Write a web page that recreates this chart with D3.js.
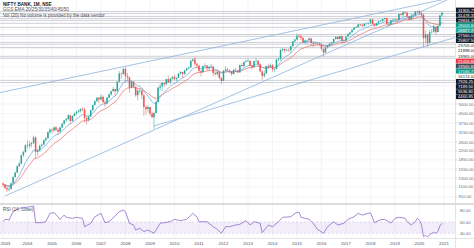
<!DOCTYPE html>
<html>
<head>
<meta charset="utf-8">
<script src="https://cdn.jsdelivr.net/npm/d3@7"></script>
<style>
  html, body { margin: 0; padding: 0; background: #fff; }
  svg { display: block; font-family: "Liberation Sans", Arial, sans-serif; }
</style>
</head>
<body>
<div id="chart"></div>
<script>
const W = 474, H = 248;

// Monthly bars of NIFTY BANK, Jan 2003 .. Dec 2020
const startYear = 2003;
const firstOpen = 1180;
const closes = [
  1150, 1080, 1050, 1060, 1180, 1330, 1450, 1640, 1720, 2020, 2150, 2450,
  2420, 2500, 2560, 2850, 2150, 2220, 2430, 2480, 2700, 2800, 3150, 3300,
  3250, 3450, 3300, 3180, 3450, 3700, 3950, 4050, 4350, 3900, 4300, 4500,
  4650, 4750, 4900, 4850, 4150, 4000, 4250, 4800, 5300, 5700, 6100, 5900,
  6200, 5600, 5450, 6100, 6500, 6900, 7200, 6900, 8300, 9700, 9600, 10600,
  9200, 9000, 7400, 8300, 7500, 6400, 7000, 7000, 6400, 5100, 4900, 5100,
  4500, 4200, 4550, 5600, 7400, 7600, 8100, 7900, 8700, 8200, 8800, 9100,
  8700, 8900, 9700, 10000, 9600, 10300, 10700, 10900, 12400, 12700, 11700, 11300,
  10200, 10000, 11200, 11300, 10700, 11000, 11100, 9800, 9600, 10000, 8900, 8400,
  10200, 10500, 10300, 10100, 9600, 10400, 10300, 9900, 11400, 11200, 12100, 12300,
  12400, 11300, 11000, 12300, 12400, 11600, 10100, 9300, 9700, 11200, 11000, 11400,
  10500, 10600, 12700, 12900, 15200, 15500, 15100, 15300, 15200, 16400, 18000, 18600,
  20000, 19800, 19200, 17600, 18300, 18400, 19000, 17400, 17100, 17300, 17200, 16900,
  15600, 14500, 16000, 16600, 17200, 17600, 18800, 19600, 18800, 19900, 18200, 18200,
  19700, 20700, 21400, 22400, 23400, 23600, 24900, 24500, 24100, 25200, 25200, 25500,
  27400, 25000, 24300, 25500, 26400, 26700, 27600, 28100, 25100, 25100, 26900, 27200,
  27300, 27100, 30400, 29800, 31400, 31200, 29000, 27400, 29100, 29400, 31900, 32200,
  30800, 29900, 19100, 20500, 17400, 21400, 21600, 23800, 21450, 24100, 29600, 31260
];
const highs = [
  1200, 1160, 1110, 1100, 1200, 1350, 1480, 1660, 1800, 2050, 2200, 2500,
  2700, 2650, 2620, 2950, 2900, 2300, 2480, 2540, 2750, 2880, 3200, 3400,
  3400, 3500, 3550, 3400, 3480, 3750, 3980, 4150, 4450, 4400, 4350, 4600,
  4750, 4850, 5000, 5100, 5050, 4250, 4350, 4850, 5350, 5800, 6150, 6200,
  6500, 6350, 5800, 6200, 6600, 7000, 7500, 7250, 8400, 10200, 9900, 10800,
  11000, 9800, 9100, 8500, 8400, 7600, 7200, 7300, 7100, 6500, 5300, 5300,
  5100, 4700, 4600, 5800, 7500, 8000, 8200, 8200, 8800, 9300, 8900, 9200,
  9500, 9000, 9750, 10150, 10000, 10400, 10800, 11000, 12500, 13000, 13300, 11900,
  11400, 10500, 11300, 11800, 11400, 11200, 11700, 11100, 10100, 10300, 10100, 9000,
  10400, 11200, 10800, 10500, 10200, 10600, 10800, 10400, 11500, 11800, 12200, 12600,
  12900, 12500, 11500, 12400, 13000, 12500, 11800, 10300, 10300, 11300, 11700, 11800,
  11600, 10700, 12800, 13100, 15600, 15900, 15700, 15600, 15800, 16500, 18100, 19000,
  20900, 20500, 20600, 19500, 18500, 18500, 19300, 19200, 17700, 17900, 17500, 17500,
  17000, 15600, 16200, 16800, 17500, 17900, 18950, 19700, 19800, 19900, 20000, 18700,
  19800, 21100, 21400, 22800, 23700, 24000, 25000, 25000, 25100, 25300, 25900, 25800,
  27600, 27000, 25400, 25700, 26400, 27000, 27700, 28400, 28300, 25700, 27000, 27700,
  27800, 27800, 30500, 30600, 31800, 31600, 31600, 29200, 30700, 30600, 32000, 32300,
  32600, 31800, 30400, 22000, 20800, 22400, 22800, 24900, 24000, 24600, 29700, 31300
];
const lows = [
  1100, 1060, 1000, 1010, 1050, 1170, 1320, 1430, 1600, 1700, 1950, 2120,
  2300, 2300, 2350, 2500, 1900, 2000, 2150, 2350, 2450, 2620, 2780, 3050,
  3050, 3200, 3200, 3000, 3100, 3400, 3650, 3800, 3950, 3700, 3850, 4250,
  4350, 4550, 4600, 4700, 3800, 3650, 3850, 4200, 4750, 5250, 5650, 5500,
  5800, 5500, 5100, 5350, 6000, 6350, 6850, 6300, 6850, 8200, 8800, 9500,
  8200, 8300, 6700, 7300, 7400, 6200, 5800, 6600, 5900, 4300, 4400, 4600,
  4300, 4100, 3340, 4500, 5500, 7000, 6900, 7500, 7800, 8100, 7900, 8600,
  8500, 8300, 8900, 9500, 8900, 9500, 10200, 10500, 10900, 12100, 11200, 10700,
  10000, 9200, 9800, 10900, 10300, 10300, 10800, 9200, 9300, 9300, 8700, 7900,
  8400, 10100, 10000, 9800, 9300, 9500, 10000, 9800, 9900, 11000, 10900, 12000,
  12200, 11200, 10500, 10800, 12000, 11100, 9900, 8600, 8900, 9700, 10600, 11000,
  10000, 9900, 10600, 12300, 12400, 14700, 14300, 14700, 14600, 14400, 16300, 17700,
  18300, 19300, 18400, 17400, 17100, 16800, 18200, 16500, 16100, 17000, 16800, 16600,
  15000, 13400, 14500, 15600, 16300, 16700, 17500, 18600, 18600, 18700, 17100, 17400,
  18100, 19700, 20500, 21300, 22600, 23200, 23500, 24100, 23900, 23800, 24900, 24700,
  25300, 24800, 23900, 24200, 24900, 26000, 26100, 27200, 24800, 23900, 24600, 26000,
  26600, 26400, 27100, 29400, 29100, 30600, 28800, 26700, 27000, 27500, 29800, 31200,
  30200, 28400, 16100, 17400, 16100, 17200, 21000, 21200, 20400, 21700, 24600, 28900
];

// RSI (month index from Jan 2003, value)
const rsiMonths = [0,1,3,5,7,8,10,12,13,15, 16,19,21,23,25,26,28,30,31,34,
  36,39,40,43,45,48,50,52,55,57, 59,60,62,64,65,67,69,71,74,75,
  77,79,82,84,87,90,93,95,96,100, 103,105,107,109,111,114,116,119,121,123,
  126,127,130,132,135,137,141,143,145,146, 148,150,152,154,157,159,162,164,167,169,
  172,174,176,180,182,185,187,190,192,194, 197,198,200,202,203,204,205,206,207,208,
  209,210,211,212,213,214,215];
const rsiValues = [60.5,64.8,63.5,78.2,82.4,84.2,85.9,85.9,87,88.2, 58.8,58.8,60.5,75.3,76.4,73.6,64.8,72.3,68.3,66.5,
  68.3,66.5,51.7,57.7,69.3,75.3,58.8,60.5,70.6,78.2, 81.2,78.2,57.7,54.7,45.9,48.9,42.9,45.9,40.1,45.9,
  57.7,58.8,60.5,64.8,62.3,64.8,75.3,69.3,60.5,60.5, 51.7,47.1,40.1,51.7,51.7,54.7,56,62.3,54.7,60.5,
  57.7,41.1,54.7,51.7,60.5,68.3,69.3,75.3,77.6,68.3, 66.5,64.8,57.7,47.1,40.1,51.7,60.5,54.7,57.7,64.8,
  69.3,75.3,72.3,76.4,58.8,64,64.8,58,66.5,68.3, 66.5,60.5,54.7,60.5,66.5,63,55,34,36.5,33.5,
  38,39.5,42,40,43,53,57.7];
const rsiTicks = [80, 60, 40];
const rsiBand = [60, 40];

const years = d3.range(2003, 2022);
const priceTicks = [910, 1100, 1300, 1550, 1850, 2200, 2600, 3150, 3750, 4500, 5400];
const gridPrices = [910, 1100, 1300, 1550, 1850, 2200, 2600, 3150, 3750, 4500, 5400,
  6400, 7700, 9200, 11000, 13100, 15700, 18700, 22400, 26700, 31900];

// horizontal levels drawn on the chart
const levels = [31900, 30700, 29000, 27900, 26900, 25400, 23500, 20500, 19800,
  17600, 17000, 16000, 13500, 13000, 8500, 8150];

// trend lines: anchor points [month, price]
const trendFrom = [["2003-02", 925], ["2009-03", 3550], ["2002-10", 6640]];
const trendTo   = [["2016-02", 13900], ["2019-03", 14100], ["2018-01", 29900]];

// stacked labels on the price scale
const scaleLabels = ["31905.75", "31478.35", "29834.30", "28003.80", "26827.75", "27560.00",
  "25807.50", "23705.00", "21898.00", "19965.00", "21426.80", "19565.80", "17036.75",
  "16174.00", "7926.25", "7189.50", "5536.80", "4460.85"];

const emaFast = 10, emaSlow = 20;

// ---------------------------------------------------------------
const paneR = 455, mainBottom = 203, rsiTop = 205, rsiBottom = 238.5;

const months = closes.map((c, i) => new Date(Date.UTC(startYear, i, 1)));
const opens = closes.map((c, i) => i === 0 ? firstOpen : closes[i - 1]);
const bars = closes.map((c, i) => ({ date: months[i], o: opens[i], h: highs[i], l: lows[i], c: c }));
const parseMonth = s => { const [yy, mm] = s.split("-").map(Number); return new Date(Date.UTC(yy, mm - 1, 1)); };

function ema(values, n) {
  const k = 2 / (n + 1);
  const out = [];
  values.forEach((v, i) => out.push(i === 0 ? v : v * k + out[i - 1] * (1 - k)));
  return out;
}

const x = d3.scaleUtc()
  .domain([new Date(Date.UTC(2003, 0, 1)), new Date(Date.UTC(2021, 0, 1))])
  .range([3, 444]);
const y = d3.scaleLog().domain([908, 34070]).range([197, 8]);
const yR = d3.scaleLinear().domain([40, 80]).range([233.3, 210.7]);

const svg = d3.select("#chart").append("svg")
  .attr("width", W).attr("height", H);

svg.append("rect").attr("width", W).attr("height", H).attr("fill", "#fff");

const defs = svg.append("defs");
defs.append("clipPath").attr("id", "clipMain")
  .append("rect").attr("x", 0).attr("y", 0).attr("width", paneR).attr("height", mainBottom);
defs.append("clipPath").attr("id", "clipRsi")
  .append("rect").attr("x", 0).attr("y", rsiTop).attr("width", paneR).attr("height", rsiBottom - rsiTop);

// grid
const grid = svg.append("g").attr("stroke", "#eef0f5").attr("stroke-width", 0.7);
grid.selectAll(".vg").data(years).join("line")
  .attr("x1", d => x(new Date(Date.UTC(d, 0, 1)))).attr("x2", d => x(new Date(Date.UTC(d, 0, 1))))
  .attr("y1", 0).attr("y2", rsiBottom);
grid.selectAll(".hg").data(gridPrices).join("line")
  .attr("x1", 0).attr("x2", paneR)
  .attr("y1", d => y(d)).attr("y2", d => y(d));

const main = svg.append("g").attr("clip-path", "url(#clipMain)");

// horizontal levels
main.selectAll(".lvl").data(levels).join("line")
  .attr("x1", 0).attr("x2", paneR)
  .attr("y1", d => y(d)).attr("y2", d => y(d))
  .attr("stroke", "#c2c4cb").attr("stroke-width", 0.8);

// trend lines, extended to the right edge
trendFrom.forEach((a, i) => {
  const b = trendTo[i];
  const x1 = x(parseMonth(a[0])), y1 = y(a[1]);
  const x2 = x(parseMonth(b[0])), y2 = y(b[1]);
  const slope = (y2 - y1) / (x2 - x1);
  main.append("line")
    .attr("x1", x1).attr("y1", y1)
    .attr("x2", paneR).attr("y2", y1 + slope * (paneR - x1))
    .attr("stroke", "#8db3dc").attr("stroke-width", 0.8);
});

// EMAs
const line = d3.line().x((d, i) => x(months[i])).y(d => y(d));
main.append("path").datum(ema(closes, emaSlow))
  .attr("d", line).attr("fill", "none").attr("stroke", "#ea7a74").attr("stroke-width", 0.8);
main.append("path").datum(ema(closes, emaFast))
  .attr("d", line).attr("fill", "none").attr("stroke", "#74addf").attr("stroke-width", 0.8);

// candles
const up = "#26a69a", down = "#ef5350";
const cw = 1.5;
const candle = main.selectAll(".bar").data(bars).join("g");
candle.append("line")
  .attr("x1", d => x(d.date)).attr("x2", d => x(d.date))
  .attr("y1", d => y(d.h)).attr("y2", d => y(d.l))
  .attr("stroke", d => d.c >= d.o ? up : down).attr("stroke-width", 0.5);
candle.append("rect")
  .attr("x", d => x(d.date) - cw / 2).attr("width", cw)
  .attr("y", d => y(Math.max(d.o, d.c)))
  .attr("height", d => Math.max(0.6, Math.abs(y(d.o) - y(d.c))))
  .attr("fill", d => d.c >= d.o ? up : down);

// legend
const fs = 4.6;
svg.append("text").attr("x", 3).attr("y", 5.8).attr("font-size", fs).attr("font-weight", 700)
  .attr("fill", "#131722").text("NIFTY BANK, 1M, NSE");
svg.append("text").attr("x", 3).attr("y", 11.3).attr("font-size", fs)
  .attr("fill", "#4a4d57").text("GGS EMA 20/25/30/35/40/45/50");
svg.append("text").attr("x", 3).attr("y", 16.6).attr("font-size", fs)
  .attr("fill", "#4a4d57").text("Vol (20) No volume is provided by the data vendor");

// RSI pane
svg.append("line").attr("x1", 0).attr("x2", W).attr("y1", 204).attr("y2", 204)
  .attr("stroke", "#b7b9c0").attr("stroke-width", 1);
const rsiG = svg.append("g").attr("clip-path", "url(#clipRsi)");
rsiG.append("rect").attr("x", 0).attr("width", paneR)
  .attr("y", yR(rsiBand[0])).attr("height", yR(rsiBand[1]) - yR(rsiBand[0]))
  .attr("fill", "#7e57c2").attr("fill-opacity", 0.1);
rsiG.selectAll(".bl").data(rsiBand).join("line")
  .attr("x1", 0).attr("x2", paneR).attr("y1", d => yR(d)).attr("y2", d => yR(d))
  .attr("stroke", "#c9bde6").attr("stroke-width", 0.5).attr("stroke-dasharray", "2,2");
const rsiLine = d3.line()
  .x((d, i) => x(new Date(Date.UTC(startYear, rsiMonths[i], 1))))
  .y(d => yR(d));
rsiG.append("path").datum(rsiValues).attr("d", rsiLine)
  .attr("fill", "none").attr("stroke", "#8e6bc9").attr("stroke-width", 0.8);
svg.append("text").attr("x", 3).attr("y", 210.6).attr("font-size", fs)
  .attr("fill", "#4a4d57").text("RSI (14, close)");

// bottom axis
svg.append("line").attr("x1", 0).attr("x2", W).attr("y1", rsiBottom).attr("y2", rsiBottom)
  .attr("stroke", "#d6d8de").attr("stroke-width", 0.7);
svg.selectAll(".yr").data(years).join("text")
  .attr("x", (d, i) => i === 0 ? 0.5 : x(new Date(Date.UTC(d, 0, 1))))
  .attr("y", 245.2)
  .attr("text-anchor", (d, i) => i === 0 ? "start" : "middle")
  .attr("font-size", 4.4).attr("fill", "#50535e")
  .text(d => d);

// right price scale
svg.append("line").attr("x1", paneR + 0.5).attr("x2", paneR + 0.5).attr("y1", 0).attr("y2", H)
  .attr("stroke", "#d6d8de").attr("stroke-width", 0.7);
const axisG = svg.append("g");
axisG.selectAll(".pt").data(priceTicks).join("text")
  .attr("x", 458.5).attr("y", d => y(d) + 1.5)
  .attr("font-size", 4.2).attr("fill", "#6a6d78")
  .text(d => d3.format(".2f")(d));
axisG.selectAll(".ptk").data(priceTicks).join("line")
  .attr("x1", paneR + 0.5).attr("x2", paneR + 2).attr("y1", d => y(d)).attr("y2", d => y(d))
  .attr("stroke", "#9598a1").attr("stroke-width", 0.5);
axisG.selectAll(".rt").data(rsiTicks).join("text")
  .attr("x", 460).attr("y", d => yR(d) + 1.5)
  .attr("font-size", 4.2).attr("fill", "#6a6d78")
  .text(d => d3.format(".2f")(d));

// stacked colored labels
const special = { 3: "#089981", 4: "#26a69a", 10: "#f23645", 11: "#434651", 12: "#089981" };
const plain = new Set([7, 8, 9, 13]);
const lab = axisG.selectAll(".sl").data(scaleLabels).join("g")
  .attr("transform", (d, i) => `translate(456, ${10 + i * 5.1})`);
lab.append("rect").attr("x", 0).attr("y", -2.4).attr("width", 18).attr("height", 4.8)
  .attr("fill", (d, i) => special[i] || (plain.has(i) ? "#ffffff" : "#131722"));
lab.append("text").attr("x", 2).attr("y", 1.6).attr("font-size", 4.2)
  .attr("fill", (d, i) => plain.has(i) ? "#131722" : "#ffffff")
  .text(d => d);
</script>
</body>
</html>
